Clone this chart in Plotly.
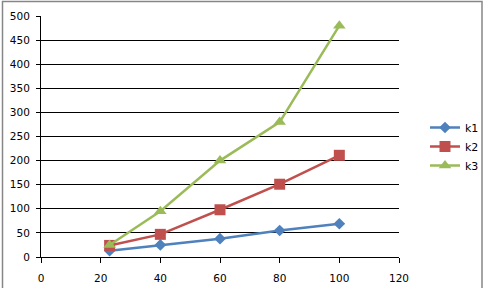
import plotly.graph_objects as go

x_vals = [23, 40, 60, 80, 100]
k1 = [13, 25, 38, 55, 69]
k2 = [24, 47, 98, 151, 211]
k3 = [25, 95, 200, 280, 480]
series_names = ["k1", "k2", "k3"]
colors = ["#4F81BD", "#C0504D", "#9BBB59"]
symbols = ["diamond", "square", "triangle-up"]
sizes = [9, 11, 11]

fig = go.Figure()
for name, ys, c, s, sz in zip(series_names, [k1, k2, k3], colors, symbols, sizes):
    fig.add_trace(go.Scatter(
        x=x_vals, y=ys, name=name, mode="lines+markers",
        line=dict(color=c, width=2.5),
        marker=dict(symbol=s, size=sz, color=c),
    ))

L, R, T, B = 41, 87, 16, 31
W, H = 486, 288
pw, ph = W - L - R, H - T - B

fig.update_layout(
    width=W, height=H,
    margin=dict(l=L, r=R, t=T, b=B, autoexpand=False),
    paper_bgcolor="white", plot_bgcolor="white",
    font=dict(family="DejaVu Sans, Verdana, sans-serif", size=10.5, color="black"),
    showlegend=True,
    legend=dict(
        xref="container", yref="container",
        x=425 / W, y=1 - 113 / H, xanchor="left", yanchor="top",
        font=dict(size=11), itemwidth=30, tracegroupgap=0,
        bgcolor="rgba(0,0,0,0)",
    ),
    xaxis=dict(
        range=[0, 120], tickvals=[0, 20, 40, 60, 80, 100, 120],
        showgrid=False, zeroline=False,
        showline=True, linecolor="black", linewidth=1,
        ticks="outside", ticklen=5, tickcolor="black", tickwidth=1,
        ticklabelstandoff=6,
        fixedrange=True,
    ),
    yaxis=dict(
        range=[0, 500], tickvals=list(range(0, 501, 50)),
        showgrid=True, gridcolor="black", gridwidth=1,
        zeroline=False,
        showline=True, linecolor="black", linewidth=1,
        ticks="outside", ticklen=4, tickcolor="black", tickwidth=1,
        ticklabelstandoff=4,
        fixedrange=True,
    ),
    shapes=[dict(
        type="rect", xref="paper", yref="paper",
        x0=(2.5 - L) / pw, x1=(482 - L) / pw,
        y0=(257 - 295) / ph, y1=(257 - 1.5) / ph,
        line=dict(color="#868686", width=1.5), fillcolor="rgba(0,0,0,0)",
        layer="below",
    )],
)

fig.write_html("out.html", config={"displayModeBar": False},
               post_script="document.body.style.margin='0';")
